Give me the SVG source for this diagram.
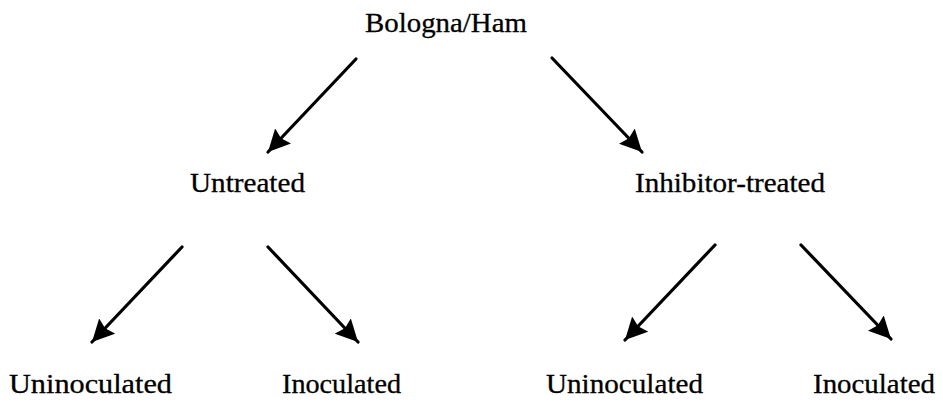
<svg xmlns="http://www.w3.org/2000/svg" width="943" height="403" viewBox="0 0 943 403">
  <style>
    .lbl { font-family: "Liberation Serif", "Times New Roman", serif; font-size: 27px; fill: #000; stroke: #000; stroke-width: 0.3; }
    .edge { stroke: #000; stroke-width: 3.2; fill: none; stroke-linecap: round; marker-end: url(#head); }
  </style>
  <defs>
    <marker id="head" markerUnits="userSpaceOnUse" markerWidth="24" markerHeight="22" refX="22" refY="11" orient="auto">
      <path d="M0,0 L22,11 L0,22 L3,11 Z" fill="#000"/>
    </marker>
  </defs>
  <rect width="943" height="403" fill="#fff"/>

  <g id="edges">
    <line class="edge" x1="356" y1="59" x2="268" y2="152"/>
    <line class="edge" x1="552" y1="58" x2="642" y2="152"/>
    <line class="edge" x1="182" y1="247" x2="92" y2="342"/>
    <line class="edge" x1="268" y1="247" x2="358" y2="342"/>
    <line class="edge" x1="715" y1="245" x2="625" y2="340"/>
    <line class="edge" x1="801" y1="245" x2="891" y2="339"/>
  </g>

  <g id="root"><text class="lbl" x="365" y="32" textLength="162" lengthAdjust="spacingAndGlyphs">Bologna/Ham</text></g>
  <g id="untreated"><text class="lbl" x="190" y="192" textLength="115" lengthAdjust="spacingAndGlyphs">Untreated</text></g>
  <g id="inhibitor"><text class="lbl" x="635" y="192" textLength="190" lengthAdjust="spacingAndGlyphs">Inhibitor-treated</text></g>
  <g id="u-unin"><text class="lbl" x="9" y="393" textLength="163" lengthAdjust="spacingAndGlyphs">Uninoculated</text></g>
  <g id="u-inoc"><text class="lbl" x="282" y="393" textLength="119" lengthAdjust="spacingAndGlyphs">Inoculated</text></g>
  <g id="i-unin"><text class="lbl" x="546" y="393" textLength="157" lengthAdjust="spacingAndGlyphs">Uninoculated</text></g>
  <g id="i-inoc"><text class="lbl" x="813" y="393" textLength="122" lengthAdjust="spacingAndGlyphs">Inoculated</text></g>
</svg>
